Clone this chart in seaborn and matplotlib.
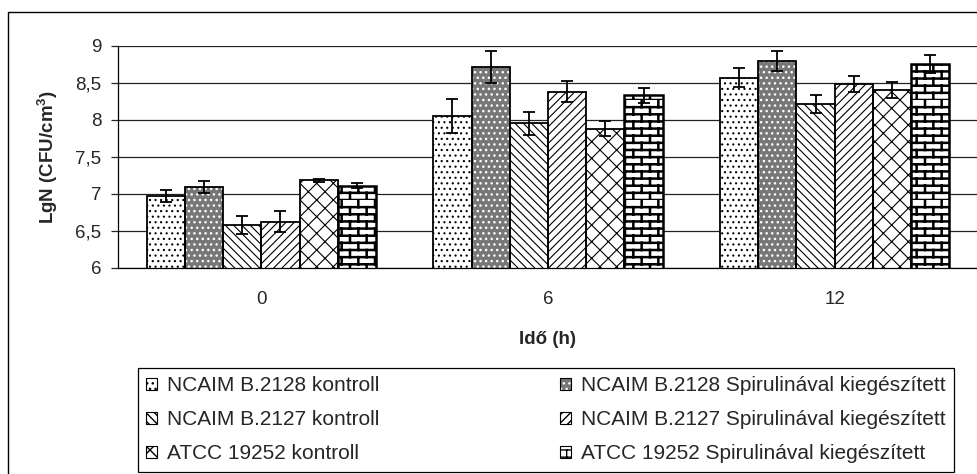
import warnings
import numpy as np
import pandas as pd
import matplotlib
matplotlib.use("Agg")
import matplotlib.pyplot as plt
import seaborn as sns
from matplotlib import hatch as mhatch
from matplotlib.path import Path
from matplotlib.patches import Patch, Rectangle
from matplotlib.ticker import FixedLocator, FuncFormatter

warnings.filterwarnings("ignore")

# data
times = ["0", "6", "12"]
series = [
    "NCAIM B.2128 kontroll",
    "NCAIM B.2128 Spirulinával kiegészített",
    "NCAIM B.2127 kontroll",
    "NCAIM B.2127 Spirulinával kiegészített",
    "ATCC 19252 kontroll",
    "ATCC 19252 Spirulinával kiegészített",
]
b2128_kontroll = [6.97, 8.05, 8.57]
b2128_spirulina = [7.09, 8.71, 8.79]
b2127_kontroll = [6.58, 7.95, 8.21]
b2127_spirulina = [6.62, 8.38, 8.48]
atcc_kontroll = [7.18, 7.88, 8.40]
atcc_spirulina = [7.11, 8.33, 8.75]

b2128_kontroll_err = [0.08, 0.23, 0.13]
b2128_spirulina_err = [0.085, 0.22, 0.135]
b2127_kontroll_err = [0.12, 0.15, 0.12]
b2127_spirulina_err = [0.14, 0.14, 0.11]
atcc_kontroll_err = [0.02, 0.10, 0.11]
atcc_spirulina_err = [0.03, 0.10, 0.12]

values = [b2128_kontroll, b2128_spirulina, b2127_kontroll,
          b2127_spirulina, atcc_kontroll, atcc_spirulina]
errors = [b2128_kontroll_err, b2128_spirulina_err, b2127_kontroll_err,
          b2127_spirulina_err, atcc_kontroll_err, atcc_spirulina_err]


# brick hatch, Excel style
class BrickHatch(mhatch.HatchPatternBase):
    def __init__(self, hatch, density):
        self.rows = 14 if "b" in hatch else 0
        self.cols = 6
        self.num_vertices = self.rows * 2 + self.rows * self.cols * 2

    def set_vertices_and_codes(self, vertices, codes):
        i = 0
        for r in range(self.rows):
            y0 = r / self.rows
            y1 = (r + 1) / self.rows
            vertices[i] = (0.0, y0)
            vertices[i + 1] = (1.0, y0)
            codes[i] = Path.MOVETO
            codes[i + 1] = Path.LINETO
            i += 2
            shift = 0.5 * (r % 2) / self.cols
            for k in range(self.cols):
                x = k / self.cols + shift
                vertices[i] = (x, y0)
                vertices[i + 1] = (x, y1)
                codes[i] = Path.MOVETO
                codes[i + 1] = Path.LINETO
                i += 2


mhatch._hatch_types.append(BrickHatch)

# fill, hatch, hatch colour, hatch width
styles = [
    ("white", "...", "black", 0.8),
    ("#777777", "...", "white", 1.0),
    ("white", "\\\\\\\\", "black", 0.8),
    ("white", "////", "black", 0.8),
    ("white", "xx", "black", 0.8),
    ("white", "b", "black", 1.8),
]

rows = []
for name, vals in zip(series, values):
    for t, v in zip(times, vals):
        rows.append({"time": t, "series": name, "value": v})
df = pd.DataFrame(rows)

sns.set_style("white")
plt.rcParams["font.family"] = ["Liberation Sans", "DejaVu Sans"]
plt.rcParams["mathtext.fontset"] = "custom"
plt.rcParams["mathtext.bf"] = "Liberation Sans:bold"
plt.rcParams["mathtext.rm"] = "Liberation Sans"

fig = plt.figure(figsize=(9.78, 4.74), dpi=100)
ax = fig.add_axes([118 / 978, 1 - 267.7 / 474, 860 / 978, (267.7 - 45.7) / 474])

sns.barplot(data=df, x="time", y="value", hue="series", order=times,
            hue_order=series, palette=["white"] * 6, errorbar=None,
            width=0.8, ax=ax, legend=False)

bar_groups = list(ax.containers)
for i, cont in enumerate(bar_groups):
    fc, hatch, hc, hlw = styles[i]
    xs = []
    for bar in cont:
        bar.set_facecolor(fc)
        bar.set_hatch(hatch)
        bar.set_edgecolor(hc)
        bar.set_linewidth(0)
        if hasattr(bar, "set_hatch_linewidth"):
            bar.set_hatch_linewidth(hlw)
        ax.add_patch(Rectangle(bar.get_xy(), bar.get_width(), bar.get_height(),
                               fill=False, edgecolor="black",
                               linewidth=1.8 if hatch == "b" else 1.3,
                               zorder=bar.get_zorder() + 0.1))
        xs.append(bar.get_x() + bar.get_width() / 2)
    ax.errorbar(xs, values[i], yerr=errors[i], fmt="none", ecolor="black",
                elinewidth=1.3, capsize=4.5, capthick=1.3, zorder=5)

ax.set_ylim(6, 9)
ax.set_xlim(-0.5, 2.5)
ax.yaxis.set_major_locator(FixedLocator(np.arange(6, 9.01, 0.5)))
ax.yaxis.set_major_formatter(FuncFormatter(lambda v, p: f"{v:g}".replace(".", ",")))
ax.set_axisbelow(True)
ax.yaxis.grid(True, color="#222222", linewidth=0.9)
ax.xaxis.grid(False)

ax.xaxis.set_minor_locator(FixedLocator([-0.5, 0.5, 1.5, 2.5]))
ax.tick_params(axis="x", which="major", length=0, pad=17, labelsize=13.5)
ax.tick_params(axis="x", which="minor", length=5, direction="out", width=0.9)
ax.tick_params(axis="y", length=5, direction="out", width=0.9, labelsize=13.5,
               left=True, pad=7)
for s in ["top", "right"]:
    ax.spines[s].set_visible(False)
for s in ["left", "bottom"]:
    ax.spines[s].set_color("black")
    ax.spines[s].set_linewidth(0.9)

ax.set_xlabel("Idő (h)", fontsize=13.5, fontweight="bold", labelpad=16)
ax.set_ylabel(r"LgN (CFU/cm$\mathbf{^3}$)", fontsize=13.5,
              fontweight="bold", labelpad=11)

# legend
handles = []
for fc, hatch, hc, hlw in styles:
    p = Patch(facecolor=fc, hatch=hatch, edgecolor=hc, linewidth=0)
    o = Patch(facecolor="none", edgecolor="black", linewidth=0.8)
    handles.append((p, o))
order = [0, 2, 4, 1, 3, 5]
leg = fig.legend([handles[k] for k in order], [series[k] for k in order],
                 loc="upper left", ncol=2, mode="expand",
                 bbox_to_anchor=(138 / 978, 0, (954 - 138) / 978, 1 - 368 / 474),
                 frameon=True, fancybox=False, framealpha=1, edgecolor="black",
                 fontsize=15, handlelength=0.5, handleheight=0.5,
                 handletextpad=0.5, labelspacing=0.72, borderpad=0.4,
                 borderaxespad=0)
leg.get_frame().set_linewidth(0.9)

fig.add_artist(Rectangle((8 / 978, -0.1), 1.2, 1 - 12 / 474 + 0.1,
                         transform=fig.transFigure, fill=False,
                         edgecolor="black", linewidth=1.0))

fig.savefig("out.png", dpi=100)
